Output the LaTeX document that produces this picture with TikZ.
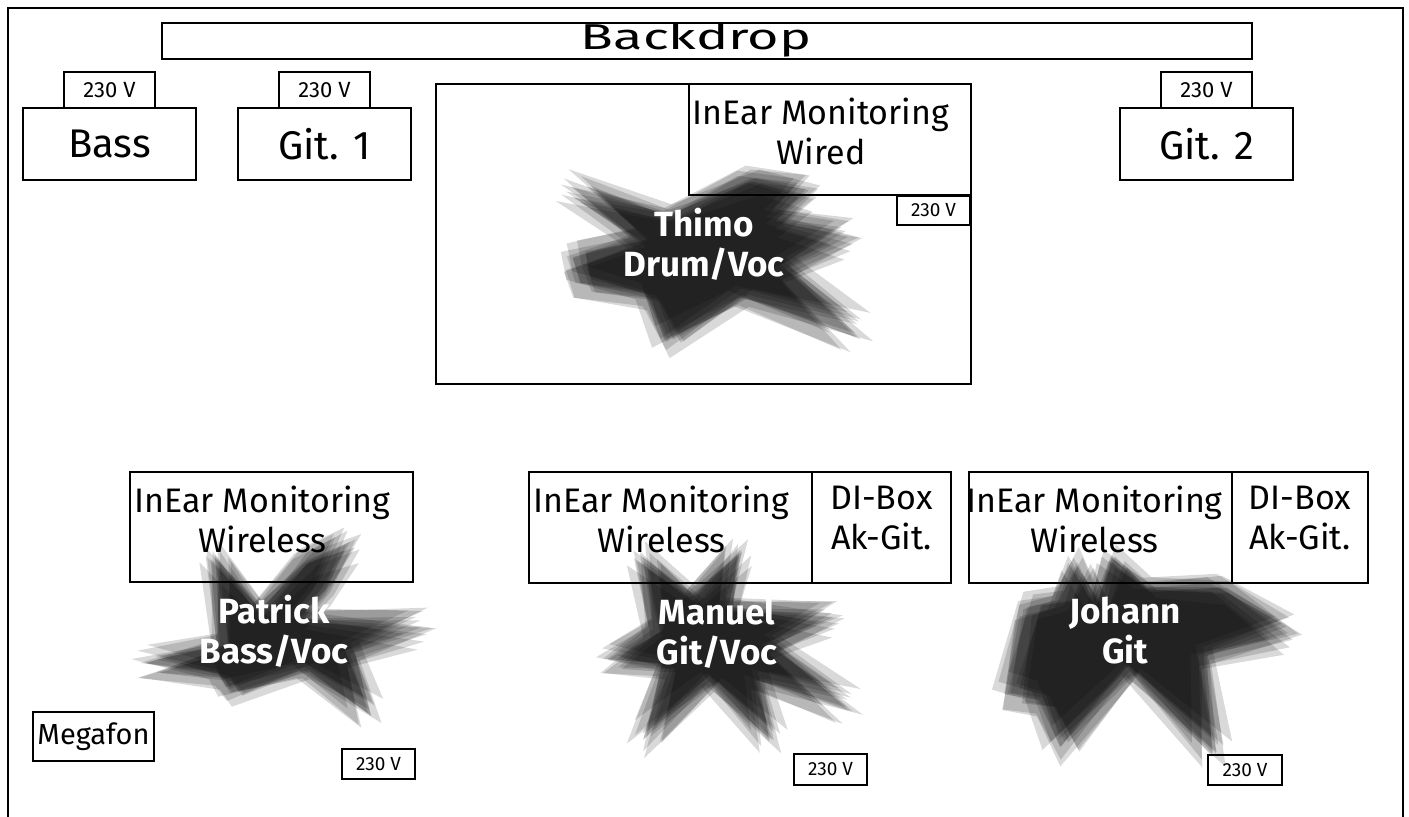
\documentclass[tikz,border=0pt]{standalone}
\usepackage{fontspec}
\usepackage{graphicx}
\setmainfont{Fira Sans}
\newcommand\drawblob[2]{%
  \foreach \dx/\dy/\rr/\sc in {0/0/0/1,6/3/4/0.95,-5/4/-4/1.05,7/-4/6/1.0,-6/-5/-5/0.92,3/7/2/1.08,9/2/-2/0.97,-3/-8/3/1.03,5/8/-6/0.94,-8/3/5/1.02,2/-7/-3/1.06,-7/-7/4/0.96}{%
    \fill[blobfill, shift={#1}, shift={(\dx,\dy)}, rotate=\rr, scale=\sc] #2;}}
\begin{document}
\begin{tikzpicture}[x=1pt,y=-1pt,
  rbox/.style={draw, line width=2.8pt, inner sep=0pt},
  lbl/.style={inner sep=0pt, align=center},
  blobfill/.style={fill=black, fill opacity=0.15},
  ptext/.style={inner sep=0pt, align=center, text=white, font=\fontsize{35}{40}\selectfont\bfseries},
  big/.style={font=\fontsize{40}{48}\selectfont},
  mid/.style={font=\fontsize{34}{40}\selectfont},
  volt/.style={font=\fontsize{22}{26}\selectfont},
  svolt/.style={font=\fontsize{19}{23}\selectfont}
]
\useasboundingbox (0,0) rectangle (1409,817);
\fill[white] (0,0) rectangle (1409,817);

% blobs
\drawblob{(705,245)}{(-134,-58) -- (-35,-30) -- (46,-67) -- (104,-55) -- (70,-24) -- (143,-8) -- (80,24) -- (150,88) -- (36,52) -- (-39,97) -- (-58,52) -- (-125,38) -- (-132,12) -- (-68,-6) -- cycle}
\drawblob{(275,630)}{(-60,-75) -- (-15,-20) -- (32,-70) -- (75,-88) -- (50,-40) -- (25,-12) -- (147,-3) -- (75,24) -- (93,83) -- (28,40) -- (-45,63) -- (-55,47) -- (-130,33) -- (-55,14) -- cycle}
\drawblob{(717,635)}{(-74,-78) -- (-24,-38) -- (23,-85) -- (12,-28) -- (116,-18) -- (55,11) -- (130,72) -- (40,45) -- (53,105) -- (-7,46) -- (-74,105) -- (-52,33) -- (-109,25) -- (-64,-6) -- cycle}
\drawblob{(1148,633)}{(-71,-71) -- (-50,-30) -- (-36,-75) -- (-1,-46) -- (72,-46) -- (140,0) -- (55,24) -- (65,120) -- (-18,38) -- (-88,114) -- (-108,67) -- (-140,60) -- (-121,-26) -- (-88,-33) -- cycle}

% frame
\coordinate (fbl) at (8,830);
\coordinate (ftl) at (8,8);
\coordinate (ftr) at (1403,8);
\coordinate (fbr) at (1403,830);
\draw[line width=2.8pt] (fbl) -- (ftl) -- (ftr) -- (fbr);

% backdrop
\node[rbox, minimum width=1090, minimum height=36] (backdrop) at (707,41) {};
\node[lbl, font=\fontsize{36}{40}\selectfont] (backdropt) at (696,40) {\scalebox{1.5}[1]{Backdrop}};

% amps
\node[rbox, minimum width=91, minimum height=36, volt] (bassv) at (109.5,90) {230 V};
\node[rbox, minimum width=173, minimum height=72, big] (bass) at (109.5,144) {Bass};
\node[rbox, minimum width=91, minimum height=36, volt] (git1v) at (324.5,90) {230 V};
\node[rbox, minimum width=173, minimum height=72, big] (git1) at (324.5,144) {Git. 1};
\node[rbox, minimum width=91, minimum height=36, volt] (git2v) at (1206.5,90) {230 V};
\node[rbox, minimum width=173, minimum height=72, big] (git2) at (1206.5,144) {Git. 2};

% drum riser
\node[rbox, minimum width=535, minimum height=300] (riser) at (703.5,234) {};
\node[rbox, minimum width=282, minimum height=111] (iemw) at (830,139.5) {};
\node[lbl, mid, anchor=north] (iemwt) at ([xshift=-9,yshift=-15]iemw.north) {InEar Monitoring\\Wired};
\node[rbox, minimum width=73, minimum height=29, svolt] (thimov) at (933.5,210.5) {230 V};

% Patrick
\node[rbox, minimum width=283, minimum height=110] (piem) at (271.5,527) {};
\node[lbl, mid, anchor=north] (piemt) at ([xshift=-9,yshift=-15]piem.north) {InEar Monitoring\\Wireless};
\node[rbox, minimum width=73, minimum height=30, svolt] (pv) at (378.5,764) {230 V};
\node[rbox, minimum width=121, minimum height=49, font=\fontsize{29}{34}\selectfont] (mega) at (93.5,736.5) {Megafon};

% Manuel
\node[rbox, minimum width=283, minimum height=111] (miem) at (670.5,527.5) {};
\node[lbl, mid, anchor=north] (miemt) at ([xshift=-9,yshift=-15]miem.north) {InEar Monitoring\\Wireless};
\node[rbox, minimum width=139, minimum height=111] (mdi) at (881.5,527.5) {};
\node[lbl, mid, anchor=north] (mdit) at ([yshift=-15]mdi.north) {DI-Box\\Ak-Git.};
\node[rbox, minimum width=73, minimum height=31, svolt] (mv) at (830.5,769.5) {230 V};

% Johann
\node[rbox, minimum width=263, minimum height=111] (jiem) at (1100.5,527.5) {};
\node[lbl, mid, anchor=north] (jiemt) at ([xshift=-6,yshift=-15]jiem.north) {InEar Monitoring\\Wireless};
\node[rbox, minimum width=136, minimum height=111] (jdi) at (1300,527.5) {};
\node[lbl, mid, anchor=north] (jdit) at ([yshift=-15]jdi.north) {DI-Box\\Ak-Git.};
\node[rbox, minimum width=74, minimum height=30, svolt] (jv) at (1245,770) {230 V};

% persons
\node[ptext] (thimo) at (704,244) {Thimo\\Drum/Voc};
\node[ptext] (patrick) at (274,631) {Patrick\\Bass/Voc};
\node[ptext] (manuel) at (717,633) {Manuel\\Git/Voc};
\node[ptext] (johann) at (1125,631) {Johann\\Git};
\end{tikzpicture}
\end{document}
